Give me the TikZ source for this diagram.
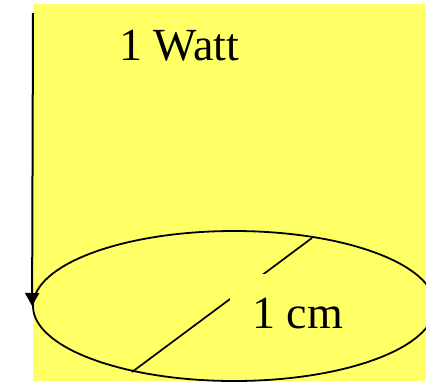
\documentclass[tikz,border=0pt]{standalone}
\usepackage{fontspec}
\setmainfont{Liberation Serif}
\usetikzlibrary{arrows.meta,shapes.geometric}
\definecolor{padyellow}{RGB}{255,255,102}
\begin{document}
\begin{tikzpicture}[x=1pt,y=-1pt,
  bigtext/.style={font=\fontsize{46}{55}\selectfont, text=black},
  outline/.style={draw=black, line width=1.8pt}]
\useasboundingbox (0,0) rectangle (426,381);
\clip (0,0) rectangle (426,381);
\fill[padyellow] (33,4) rectangle (426,381);
\node[ellipse, outline, fill=padyellow, minimum width=402pt, minimum height=150pt, inner sep=0pt] (disk) at (234,306) {};
\coordinate (d1) at (132,372);
\coordinate (d2) at (312,238);
\draw[black, line width=1.7pt] (d1) -- (d2);
\node[bigtext, fill=padyellow, anchor=base west, inner xsep=22pt, inner ysep=24pt] (cm) at (230,328) {1 cm};
\coordinate (top) at (33,13);
\draw[black, line width=2pt, -{Triangle[length=13pt,width=14pt]}] (top) -- (disk.west);
\node[bigtext, anchor=base west, inner sep=0pt] (watt) at (119,60) {1 Watt};
\end{tikzpicture}
\end{document}
